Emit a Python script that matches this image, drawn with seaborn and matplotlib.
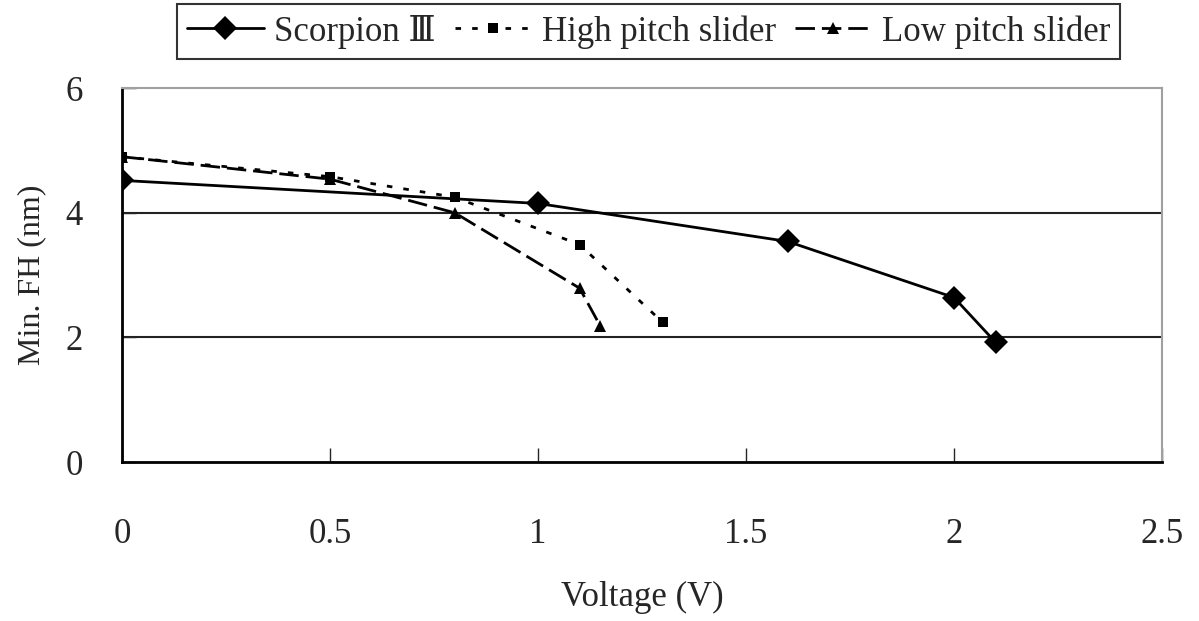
import pandas as pd
import matplotlib.pyplot as plt
import seaborn as sns

# values
scorpion_v = [0, 1.0, 1.6, 2.0, 2.1]
scorpion_fh = [4.52, 4.15, 3.54, 2.64, 1.92]

high_v = [0, 0.5, 0.8, 1.1, 1.3]
high_fh = [4.9, 4.58, 4.25, 3.49, 2.24]

low_v = [0, 0.5, 0.8, 1.1, 1.15]
low_fh = [4.9, 4.54, 4.0, 2.79, 2.18]

sns.set_style("white")
plt.rcParams['font.family'] = ['Liberation Serif', 'DejaVu Serif']

fig = plt.figure(figsize=(11.99, 6.21), dpi=100)
ax = fig.add_axes([0.1017, 0.256, 0.8675, 0.602])

sns.lineplot(x=scorpion_v, y=scorpion_fh, ax=ax, color='black', lw=2,
             marker='D', markersize=12, markeredgewidth=0, label='Scorpion \u2162')
sns.lineplot(x=high_v, y=high_fh, ax=ax, color='black', lw=2,
             marker='s', markersize=7, markeredgewidth=0, label='High pitch slider',
             dashes=False)
sns.lineplot(x=low_v, y=low_fh, ax=ax, color='black', lw=2,
             marker='^', markersize=8, markeredgewidth=0, label='Low pitch slider',
             dashes=False)
ax.lines[1].set_dashes([2, 4])
ax.lines[2].set_dashes([7, 2.5])

ax.set_xlim(0, 2.5)
ax.set_ylim(0, 6)
ax.set_xticks([0, 0.5, 1, 1.5, 2, 2.5])
ax.set_xticklabels(['0', '0.5', '1', '1.5', '2', '2.5'])
ax.set_yticks([0, 2, 4, 6])
ax.tick_params(axis='x', direction='in', length=10, width=1, pad=40,
               labelsize=25, bottom=True)
ax.tick_params(axis='y', direction='in', length=10, width=1, pad=28,
               labelsize=25, left=True)

for y in [2, 4]:
    ax.axhline(y, color='#222222', lw=1.5, zorder=0)

for side in ['left', 'bottom']:
    ax.spines[side].set_color('black')
    ax.spines[side].set_linewidth(2)
for side in ['top', 'right']:
    ax.spines[side].set_color('#a0a0a0')
    ax.spines[side].set_linewidth(1.5)

ax.set_xlabel('Voltage (V)', fontsize=25, labelpad=22)
ax.set_ylabel('Min. FH (nm)', fontsize=23, labelpad=14)

leg = ax.legend(loc='upper center', bbox_to_anchor=(0.541, 1.01),
                bbox_transform=fig.transFigure, ncol=3, fontsize=25,
                frameon=True, fancybox=False, handlelength=2.2,
                handletextpad=0.3, columnspacing=0.55, borderpad=0.3,
                borderaxespad=0.3)
leg.get_frame().set_edgecolor('black')
leg.get_frame().set_linewidth(1.5)

fig.savefig('out.png', dpi=100)
plt.close('all')
